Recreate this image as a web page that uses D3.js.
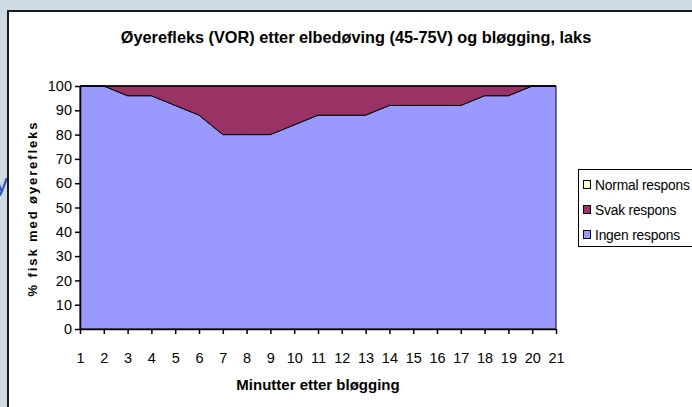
<!DOCTYPE html>
<html>
<head>
<meta charset="utf-8">
<script src="https://cdn.jsdelivr.net/npm/d3@7"></script>
<style>
	body { margin: 0; background: #cfdbe3; }
	svg { display: block; font-family: "Liberation Sans", Arial, sans-serif; }
</style>
</head>
<body>
<div id="chart"></div>
<script>
// data
const minutes = d3.range(1, 22);
const ingenRespons = [100, 100, 96, 96, 92, 88, 80, 80, 80, 84, 88, 88, 88, 92, 92, 92, 92, 96, 96, 100, 100];
const svakRespons = [0, 0, 4, 4, 8, 12, 20, 20, 20, 16, 12, 12, 12, 8, 8, 8, 8, 4, 4, 0, 0];
const normalRespons = minutes.map(() => 0);
const yTicks = [0, 10, 20, 30, 40, 50, 60, 70, 80, 90, 100];

const seriesKeys = ["Ingen respons", "Svak respons", "Normal respons"];
const colors = {"Ingen respons": "#9999ff", "Svak respons": "#993366", "Normal respons": "#ffffcc"};

// build rows for the stack
const rows = minutes.map((m, i) => ({
	minute: m,
	"Ingen respons": ingenRespons[i],
	"Svak respons": svakRespons[i],
	"Normal respons": normalRespons[i]
}));

const W = 692, H = 407;
const margin = {top: 86, right: 136, bottom: 78, left: 80};
const width = W - margin.left - margin.right;
const height = H - margin.top - margin.bottom;

const svg = d3.select("#chart").append("svg")
	.attr("width", W)
	.attr("height", H);

// bit of slide text peeking out behind the panel
svg.append("text")
	.attr("x", -5)
	.attr("y", 192)
	.attr("font-size", 26)
	.attr("fill", "#2d50b4")
	.text("y");

// white chart panel
svg.append("rect")
	.attr("x", 8)
	.attr("y", 11)
	.attr("width", W)
	.attr("height", H)
	.attr("fill", "#fff")
	.attr("stroke", "#1a1a1a")
	.attr("stroke-width", 2);

// title
svg.append("text")
	.attr("x", 356)
	.attr("y", 43)
	.attr("text-anchor", "middle")
	.attr("font-size", 16.3)
	.attr("font-weight", "bold")
	.text("Øyerefleks (VOR) etter elbedøving (45-75V) og bløgging, laks");

const g = svg.append("g")
	.attr("transform", "translate(" + margin.left + "," + margin.top + ")");

// scales
const x = d3.scaleLinear()
	.domain([1, 21])
	.range([0, width]);
const y = d3.scaleLinear()
	.domain([0, 100])
	.range([height, 0]);

// stacked areas
const stack = d3.stack().keys(seriesKeys);
const layers = stack(rows);

const area = d3.area()
	.x(d => x(d.data.minute))
	.y0(d => y(d[0]))
	.y1(d => y(d[1]));

g.selectAll(".layer")
	.data(layers)
	.enter()
	.append("path")
	.attr("class", "layer")
	.attr("fill", d => colors[d.key])
	.attr("stroke", "#000")
	.attr("stroke-width", 1)
	.attr("stroke-linejoin", "round")
	.attr("d", area);

// axes
const xAxis = d3.axisBottom(x)
	.tickValues(minutes)
	.tickFormat(d3.format("d"))
	.tickSizeInner(5)
	.tickSizeOuter(0)
	.tickPadding(19);
const yAxis = d3.axisLeft(y)
	.tickValues(yTicks)
	.tickSizeInner(5)
	.tickSizeOuter(0)
	.tickPadding(3);

const gx = g.append("g")
	.attr("transform", "translate(0," + height + ")")
	.call(xAxis);
const gy = g.append("g")
	.call(yAxis);

[gx, gy].forEach(ax => {
	ax.selectAll("path, line").attr("stroke", "#000").attr("stroke-width", 1.5);
	ax.selectAll("text")
		.attr("font-family", "Liberation Sans, Arial, sans-serif")
		.attr("font-size", 14.5)
		.attr("fill", "#000");
});

// axis titles
svg.append("text")
	.attr("x", margin.left + width / 2)
	.attr("y", 390)
	.attr("text-anchor", "middle")
	.attr("font-size", 15)
	.attr("font-weight", "bold")
	.text("Minutter etter bløgging");

svg.append("text")
	.attr("transform", "translate(37," + (margin.top + height / 2 + 1) + ") rotate(-90)")
	.attr("text-anchor", "middle")
	.attr("font-size", 13)
	.attr("font-weight", "bold")
	.attr("letter-spacing", 1.9)
	.text("% fisk med øyerefleks");

// legend
const legend = svg.append("g")
	.attr("transform", "translate(578,169)");
legend.append("rect")
	.attr("x", 0.5)
	.attr("y", 0.5)
	.attr("width", 130)
	.attr("height", 77)
	.attr("fill", "#fff")
	.attr("stroke", "#000")
	.attr("stroke-width", 1);

const legendKeys = seriesKeys.slice().reverse();
const item = legend.selectAll(".item")
	.data(legendKeys)
	.enter()
	.append("g")
	.attr("transform", (d, i) => "translate(5," + (16 + i * 25) + ")");
item.append("rect")
	.attr("x", 0.5)
	.attr("y", -4.5)
	.attr("width", 7)
	.attr("height", 8)
	.attr("fill", d => colors[d])
	.attr("stroke", "#000");
item.append("text")
	.attr("x", 12)
	.attr("y", 5)
	.attr("font-size", 13.8)
	.attr("letter-spacing", -0.2)
	.text(d => d);
</script>
</body>
</html>
